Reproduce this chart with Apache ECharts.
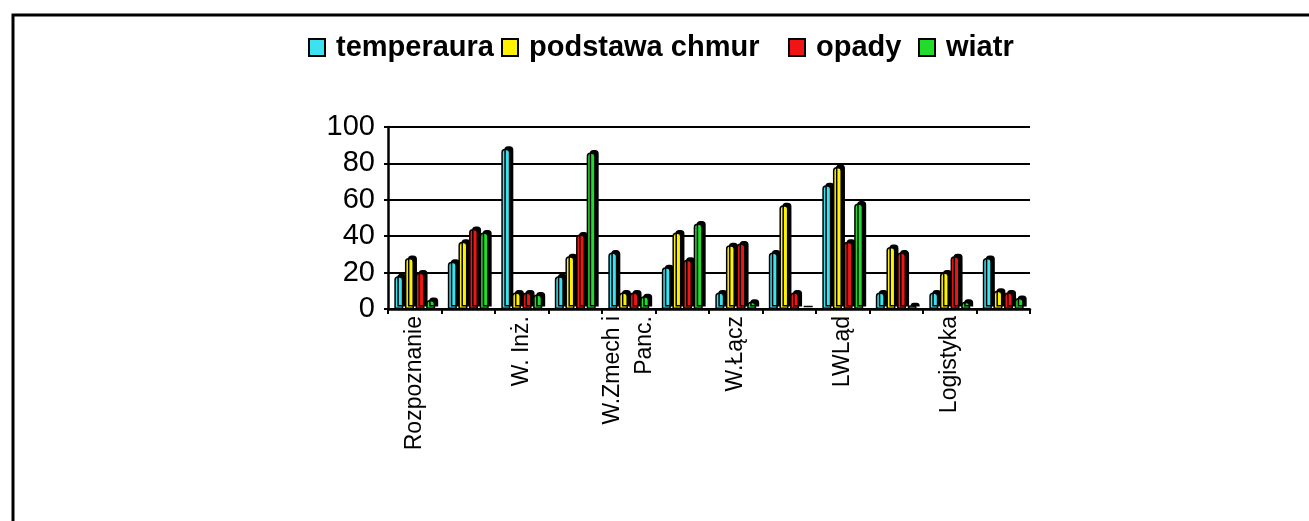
<!DOCTYPE html>
<html>
<head>
<meta charset="utf-8">
<script src="https://cdn.jsdelivr.net/npm/echarts@6/dist/echarts.min.js"></script>
<style>
html,body{margin:0;padding:0;background:#fff;}
#chart{width:1309px;height:521px;}
</style>
</head>
<body>
<div id="chart"></div>
<script>
const categories = ["Rozpoznanie", "", "W. Inż.", "", "W.Zmech i\nPanc.", "", "W.Łącz", "", "LWLąd", "", "Logistyka", ""];
const seriesNames = ["temperaura", "podstawa chmur", "opady", "wiatr"];
const temperaura = [18, 26, 88, 18, 31, 23, 9, 31, 68, 9, 9, 28];
const podstawaChmur = [28, 37, 9, 29, 9, 42, 35, 57, 78, 34, 20, 10];
const opady = [20, 44, 9, 41, 9, 27, 36, 9, 37, 31, 29, 9];
const wiatr = [5, 42, 8, 86, 7, 47, 4, 0, 58, 2, 4, 6];
const yTicks = [0, 20, 40, 60, 80, 100];
const colors = ["#3CE2F0", "#FFF200", "#F01414", "#22DC2A"];

const values = [temperaura, podstawaChmur, opady, wiatr];
const legendLeft = [303, 496, 783, 913];
const chart = echarts.init(document.getElementById('chart'), null, {renderer: 'canvas'});
const FONT = '"Liberation Sans", Arial, sans-serif';

chart.setOption({
  backgroundColor: '#fff',
  animation: false,
  color: colors,
  graphic: [
    {type: 'polyline', shape: {points: [[13, 521], [13, 15], [1309, 15]]},
     style: {stroke: '#000', lineWidth: 3, fill: null}}
  ],
  legend: seriesNames.map((name, i) => ({
    left: legendLeft[i], top: 28,
    itemWidth: 16, itemHeight: 17,
    icon: 'rect',
    itemStyle: {borderColor: '#000', borderWidth: 2, shadowBlur: 0, shadowOffsetX: 0, shadowOffsetY: 0},
    textStyle: {fontFamily: FONT, fontWeight: 'bold', fontSize: 29, color: '#000', padding: [0, 0, 0, 6]},
    data: [name]
  })),
  grid: {left: 388, right: 279, top: 127, bottom: 212, containLabel: false},
  xAxis: {
    type: 'category',
    data: categories,
    axisLine: {lineStyle: {color: '#000', width: 2.5}},
    axisTick: {show: true, interval: 0, length: 5, lineStyle: {color: '#000', width: 2}},
    axisLabel: {interval: 1, rotate: 90, fontFamily: FONT, fontSize: 23, color: '#000', margin: 7, lineHeight: 32},
    splitLine: {show: false}
  },
  yAxis: {
    type: 'value',
    min: yTicks[0], max: yTicks[yTicks.length - 1], interval: 20,
    axisLine: {show: true, lineStyle: {color: '#000', width: 2.5}},
    axisTick: {show: true, length: 4, lineStyle: {color: '#000', width: 2}},
    axisLabel: {fontFamily: FONT, fontSize: 29, color: '#000', margin: 13},
    splitLine: {show: true, lineStyle: {color: '#000', width: 2}}
  },
  series: seriesNames.map((name, i) => ({
    name: name,
    type: 'bar',
    data: values[i],
    barWidth: 9,
    barGap: '18%',
    itemStyle: {
      color: colors[i],
      borderColor: '#000',
      borderWidth: 1.5,
      borderRadius: [3, 3, 0, 0],
      shadowColor: '#000',
      shadowBlur: 0,
      shadowOffsetX: 3,
      shadowOffsetY: -2.5
    }
  }))
});
</script>
</body>
</html>
